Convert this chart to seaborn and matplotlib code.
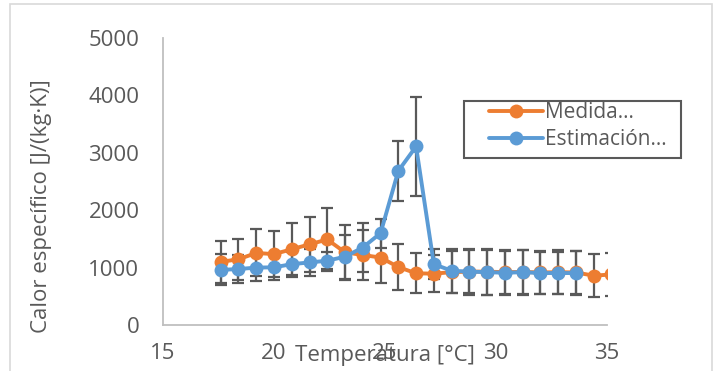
import matplotlib
matplotlib.use("Agg")
import matplotlib.pyplot as plt
from matplotlib.patches import Rectangle
import seaborn as sns
import pandas as pd

# temperatures [°C]
temp_medida = [17.6, 18.4, 19.2, 20.0, 20.8, 21.6, 22.4, 23.2, 24.0, 24.8, 25.6, 26.4,
               27.2, 28.0, 28.8, 29.6, 30.4, 31.2, 32.0, 32.8, 33.6, 34.4, 35.2]
temp_estim = [17.6, 18.4, 19.2, 20.0, 20.8, 21.6, 22.4, 23.2, 24.0, 24.8, 25.6, 26.4,
              27.2, 28.0, 28.8, 29.6, 30.4, 31.2, 32.0, 32.8, 33.6]

# specific heat [J/(kg·K)]
cp_medida = [1100, 1145, 1255, 1235, 1320, 1405, 1490, 1265, 1220, 1175, 1010, 900,
             895, 920, 930, 930, 920, 925, 915, 920, 915, 860, 880]
err_medida = [370, 360, 410, 400, 450, 480, 555, 480, 430, 440, 400, 350,
              320, 370, 380, 400, 380, 380, 370, 380, 380, 370, 380]
cp_estim = [960, 975, 1000, 1005, 1060, 1090, 1120, 1190, 1350, 1600, 2685, 3110,
            1060, 945, 930, 920, 910, 920, 905, 905, 905]
err_estim = [270, 240, 230, 220, 220, 230, 150, 380, 430, 250, 525, 865,
             260, 380, 400, 390, 380, 390, 370, 370, 380]

labels = ["Medida…", "Estimación…"]
x_ticks = [15, 20, 25, 30, 35]
y_ticks = [0, 1000, 2000, 3000, 4000, 5000]

ORANGE = "#ED7D31"
BLUE = "#5B9BD5"
GREY = "#595959"
FS = 16

sns.set_style("white")
plt.rcParams["font.family"] = ["Open Sans", "DejaVu Sans"]

W, H = 717, 371
fig = plt.figure(figsize=(W / 100, H / 100), dpi=100)
ax = fig.add_axes([163 / W, 1 - 325 / H, (607 - 163) / W, (325 - 38) / H])

df_m = pd.DataFrame({"T": temp_medida, "cp": cp_medida})
df_e = pd.DataFrame({"T": temp_estim, "cp": cp_estim})

# error bars behind the markers
ax.errorbar(temp_medida, cp_medida, yerr=err_medida, fmt="none", ecolor=GREY,
            elinewidth=1.6, capsize=4.5, capthick=1.6, zorder=1)
ax.errorbar(temp_estim, cp_estim, yerr=err_estim, fmt="none", ecolor=GREY,
            elinewidth=1.6, capsize=4.5, capthick=1.6, zorder=1)

sns.lineplot(data=df_m, x="T", y="cp", ax=ax, color=ORANGE, marker="o",
             markersize=10, markeredgewidth=0, linewidth=2.8, label=labels[0],
             errorbar=None, zorder=2)
sns.lineplot(data=df_e, x="T", y="cp", ax=ax, color=BLUE, marker="o",
             markersize=10, markeredgewidth=0, linewidth=2.8, label=labels[1],
             errorbar=None, zorder=3)

ax.set_xlim(15, 35)
ax.set_ylim(0, 5000)
ax.set_xticks(x_ticks)
ax.set_yticks(y_ticks)
ax.set_xlabel("")
ax.set_ylabel("")
ax.tick_params(axis="both", length=0, labelsize=FS, labelcolor=GREY)
ax.tick_params(axis="y", pad=17)
ax.tick_params(axis="x", pad=13)
for s in ["top", "right"]:
    ax.spines[s].set_visible(False)
for s in ["left", "bottom"]:
    ax.spines[s].set_color("#BFBFBF")
    ax.spines[s].set_linewidth(1.3)

fig.text(385 / W, 1 - 355 / H, "Temperatura [°C]", ha="center", va="center",
         fontsize=FS, color=GREY)
fig.text(42 / W, 1 - 206 / H, "Calor específico [J/(kg·K)]", ha="center",
         va="center", rotation=90, fontsize=FS, color=GREY)

leg = ax.legend(loc="upper left", bbox_to_anchor=(489 / W, 1 - 102 / H),
                bbox_transform=fig.transFigure, frameon=False, borderpad=0,
                borderaxespad=0, handlelength=2.6, handletextpad=0.1,
                labelspacing=0.3, fontsize=15)
for t in leg.get_texts():
    t.set_color(GREY)

# legend frame and chart-area border
fig.patches.append(Rectangle((464 / W, 1 - 158 / H), (681 - 464) / W, (158 - 101) / H,
                             transform=fig.transFigure, fill=False,
                             edgecolor=GREY, linewidth=1.5))
fig.patches.append(Rectangle((10 / W, -0.05), (712 - 10) / W, 1 - 4 / H + 0.05,
                             transform=fig.transFigure, fill=False,
                             edgecolor="#D9D9D9", linewidth=1.2))

fig.savefig("out.png", dpi=100)
